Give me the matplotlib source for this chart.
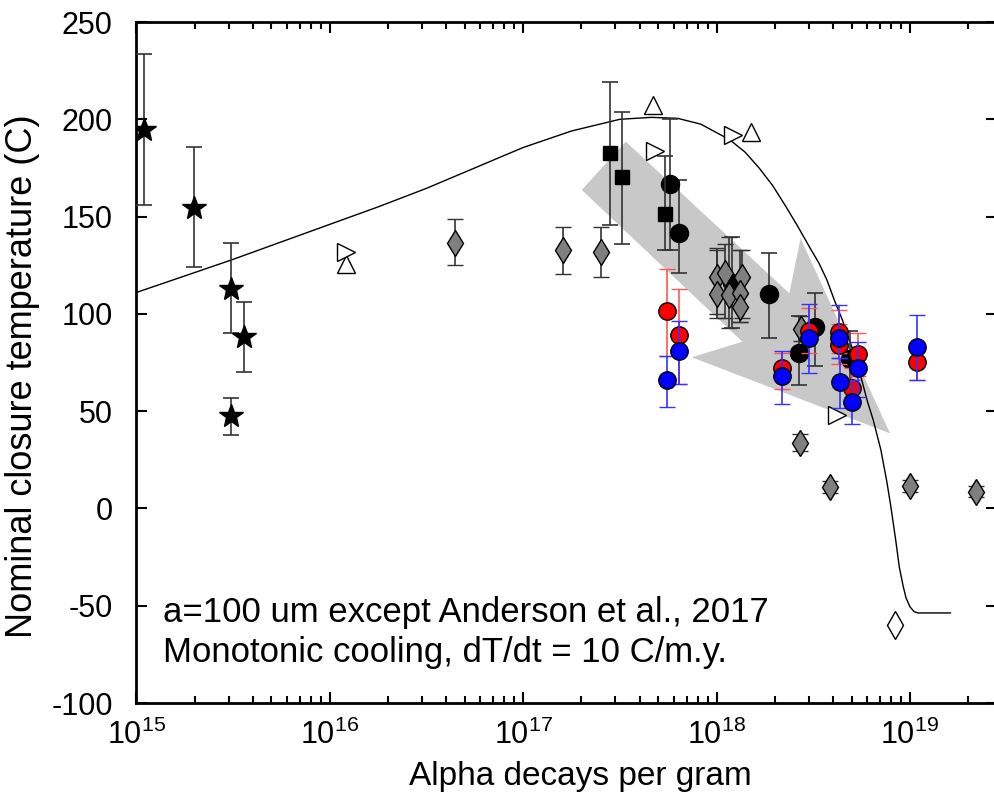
import matplotlib
matplotlib.use("Agg")
import matplotlib.pyplot as plt
from matplotlib.patches import Polygon

plt.rcParams['font.family'] = ['Liberation Sans', 'DejaVu Sans']
plt.rcParams['mathtext.default'] = 'regular'
plt.rcParams['axes.unicode_minus'] = False

# model curve
curve_x = [1e15, 1.78e15, 3.16e15, 5.62e15, 1e16, 1.78e16, 3.16e16, 5.62e16, 1e17,
           1.78e17, 3.16e17, 4.6e17, 6.3e17, 8.3e17, 1.17e18, 1.41e18, 1.66e18, 1.95e18,
           2.29e18, 2.63e18, 3.02e18, 3.39e18, 3.72e18, 4.07e18, 4.47e18, 5.01e18,
           5.5e18, 6.03e18, 6.46e18, 7.08e18, 7.59e18, 7.94e18, 8.41e18, 8.81e18,
           9.23e18, 9.55e18, 1.0e19, 1.05e19, 1.1e19, 1.62e19]
curve_y = [111, 119.5, 128, 137, 146, 155, 164.5, 175, 185.5,
           194, 200, 201, 200.5, 197.5, 189.5, 183, 175, 166,
           155, 145, 134.5, 126, 117.5, 107, 97, 83,
           70, 55, 45.5, 30, 14, 2, -15, -30,
           -40, -46, -50.5, -53, -53.7, -53.7]

# stars
star_x = [1.10e15, 1.99e15, 3.07e15, 3.61e15, 3.07e15]
star_y = [194.5, 154.5, 113, 88.3, 47.5]
star_lo = [155.8, 124, 90.3, 70.3, 37.8]
star_hi = [233.5, 185.9, 136.2, 106.1, 56.9]

# black squares
sq_x = [2.83e17, 3.24e17, 5.43e17]
sq_y = [182.5, 170.2, 151.2]
sq_lo = [145.5, 136, 133]
sq_hi = [219, 204, 181]

# black circles
bc_x = [5.75e17, 6.37e17, 1.2e18, 1.87e18, 2.68e18, 3.23e18, 4.9e18]
bc_y = [167, 141.4, 115.7, 110.2, 79.7, 93.1, 76.7]
bc_lo = [133, 121, 92.6, 87.4, 63.5, 73.4, 62]
bc_hi = [200, 169, 139.4, 131.5, 99, 110.9, 91.4]

# gray diamonds
gd_x = [4.43e16, 1.61e17, 2.52e17, 1.0e18, 1.1e18, 1.35e18, 1.0e18, 1.16e18,
        1.32e18, 1.32e18, 2.72e18, 2.7e18, 3.86e18, 1.0e19, 2.19e19]
gd_y = [136.6, 132.6, 131.8, 119.1, 120.9, 119.1, 110.2, 109.7,
        110.6, 103.7, 92.1, 33.5, 11, 11.5, 8.7]
gd_lo = [124.9, 120.6, 118.9, 100, 98, 98, 98, 92.6, 96, 96, 86, 29.5, 8, 8.5, 6]
gd_hi = [148.6, 144.7, 144.7, 134, 136, 133, 133, 139.4, 133, 110, 99, 38.3, 14, 14.5, 11.5]

# red circles
red_x = [5.57e17, 6.43e17, 2.17e18, 3.0e18, 4.32e18, 4.32e18, 5.36e18, 5.04e18, 1.09e19]
red_y = [101.6, 89.2, 72, 91.4, 90.9, 84, 79.4, 61.8, 75.5]
red_lo = [78.4, 64, 61.4, 80, 80, 74, 68, 52, 66]
red_hi = [123.1, 112.6, 79.7, 103, 102, 95, 90, 72, 85]

# blue circles
blue_x = [5.57e17, 6.43e17, 2.17e18, 2.99e18, 4.32e18, 4.37e18, 5.36e18, 5.04e18, 1.09e19]
blue_y = [66, 81, 68, 87.4, 87.4, 65.2, 72, 54.6, 83]
blue_lo = [52.3, 64, 53.7, 69.5, 77.2, 51.5, 57.1, 43.4, 66]
blue_hi = [78.4, 96.3, 81.1, 104.9, 104.4, 77.2, 85.7, 66, 99.3]

# open symbols
up_x = [1.22e16, 4.71e17, 1.5e18]
up_y = [125.8, 207.3, 193.6]
rt_x = [1.22e16, 4.81e17, 1.22e18, 4.21e18]
rt_y = [131.8, 183.9, 191.9, 48]
od_x = [8.35e18]
od_y = [-59.7]

# gray trend arrow outline
arrow_x = [2.01e17, 3.40e17, 2.38e18, 2.72e18, 7.89e18, 7.45e17, 1.36e18]
arrow_y = [163.7, 188.5, 110.6, 138.8, 38.6, 77.7, 85.7]

fig = plt.figure(figsize=(9.95, 8.01), dpi=100)
ax = fig.add_axes([0.137, 0.1223, 0.865, 0.8502])
ax.set_xscale('log')

ax.add_patch(Polygon(list(zip(arrow_x, arrow_y)), closed=True,
                     facecolor='#c8c8c8', edgecolor='none', zorder=1))
ax.plot(curve_x, curve_y, color='black', lw=1.0, zorder=2)


def errs(y, lo, hi):
    return [[a - b for a, b in zip(y, lo)], [c - a for a, c in zip(y, hi)]]


ebkw = dict(ls='none', capsize=6, elinewidth=1.2, capthick=1.2)
ax.errorbar(star_x, star_y, yerr=errs(star_y, star_lo, star_hi), fmt='*', ms=18,
            mfc='black', mec='black', ecolor='#333333', zorder=3, **ebkw)
ax.errorbar(bc_x, bc_y, yerr=errs(bc_y, bc_lo, bc_hi), fmt='o', ms=13,
            mfc='black', mec='black', ecolor='#333333', zorder=3, **ebkw)
ax.errorbar(gd_x, gd_y, yerr=errs(gd_y, gd_lo, gd_hi), fmt='d', ms=13,
            mfc='#7f7f7f', mec='black', mew=1, ecolor='#333333', zorder=3.5, **ebkw)
ax.errorbar(sq_x, sq_y, yerr=errs(sq_y, sq_lo, sq_hi), fmt='s', ms=10,
            mfc='black', mec='black', ecolor='#333333', zorder=4, **ebkw)
ax.errorbar(red_x, red_y, yerr=errs(red_y, red_lo, red_hi), fmt='o', ms=12.5,
            mfc='red', mec='black', mew=1, ecolor='#ff5555', zorder=5, **ebkw)
ax.errorbar(blue_x, blue_y, yerr=errs(blue_y, blue_lo, blue_hi), fmt='o', ms=12.5,
            mfc='blue', mec='black', mew=1, ecolor='#3333ff', zorder=6, **ebkw)

ax.plot(up_x, up_y, '^', ms=13, mfc='white', mec='black', mew=1, ls='none', zorder=4)
ax.plot(rt_x, rt_y, '>', ms=13, mfc='white', mec='black', mew=1, ls='none', zorder=4)
ax.plot(od_x, od_y, 'd', ms=14, mfc='white', mec='black', mew=1, ls='none', zorder=4)

ax.set_xlim(1e15, 2.82e19)
ax.set_ylim(-100, 250)
ax.set_yticks([-100, -50, 0, 50, 100, 150, 200, 250])
ax.tick_params(which='both', direction='in', top=True, right=True, labelsize=22, width=1.5)
ax.tick_params(which='major', length=8)
ax.tick_params(axis='y', which='major', pad=17)
ax.tick_params(axis='x', which='major', pad=12)
ax.tick_params(which='minor', length=5)
for s in ax.spines.values():
    s.set_linewidth(2)

ax.set_xlabel('Alpha decays per gram', fontsize=24)
ax.set_ylabel('Nominal closure temperature (C)', fontsize=26)
ax.xaxis.set_label_coords(0.516, -0.085)
ax.yaxis.set_label_coords(-0.1115, 0.4795)

ax.text(0.0315, 0.1336, 'a=100 um except Anderson et al., 2017', transform=ax.transAxes,
        fontsize=25, va='center', ha='left')
ax.text(0.0315, 0.0749, 'Monotonic cooling, dT/dt = 10 C/m.y.', transform=ax.transAxes,
        fontsize=25, va='center', ha='left')

fig.savefig('out.png', dpi=100)
